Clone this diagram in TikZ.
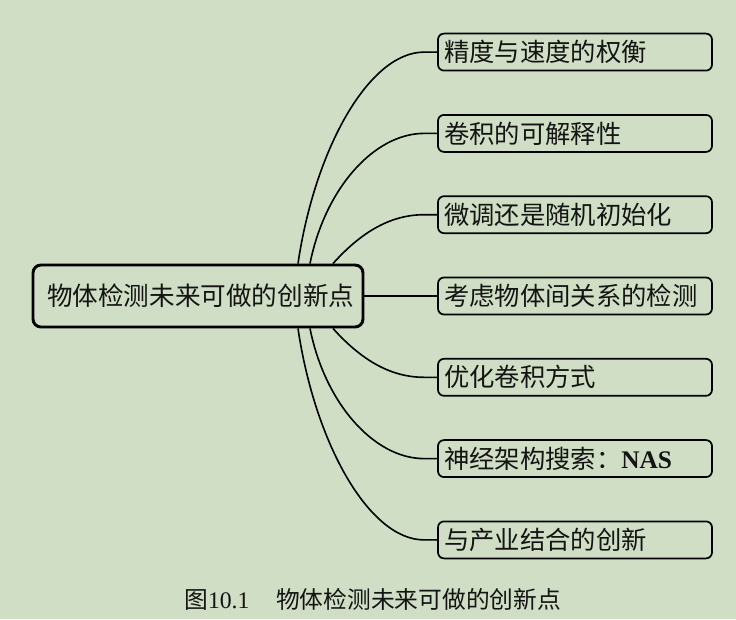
\documentclass[tikz,border=0pt]{standalone}
\usepackage{fontspec}
\setmainfont{Liberation Serif}
\newfontfamily\cjk{Noto Sans CJK SC}
\newfontfamily\lserif{Liberation Serif}
\definecolor{bg}{RGB}{207,222,196}
\definecolor{txt}{RGB}{20,20,20}
\begin{document}
\begin{tikzpicture}[x=0.75pt,y=-0.75pt,
  branch/.style={draw=black, line width=1.3pt, rounded corners=4.5pt, fill=bg,
    minimum width=205.5pt, minimum height=27.75pt, text width=196.5pt, align=left,
    inner xsep=4.5pt, inner ysep=0pt, font=\cjk\fontsize{19}{20}\selectfont, text=txt},
  root/.style={draw=black, line width=2.2pt, rounded corners=6pt, fill=bg,
    minimum width=247.5pt, minimum height=46.5pt, inner sep=0pt,
    font=\cjk\fontsize{19.2}{22}\selectfont, text=txt},
  link/.style={line width=1.2pt, black}]
\fill[bg] (0,0) rectangle (736,619);
\useasboundingbox (0,0) rectangle (736,619);

\node[root] (root) at (198,296) {\hspace{4pt}物体检测未来可做的创新点};

\node[branch] (b1) at (575,52.1) {精度与速度的权衡};
\node[branch] (b2) at (575,133.4) {卷积的可解释性};
\node[branch] (b3) at (575,214.7) {微调还是随机初始化};
\node[branch] (b4) at (575,296) {考虑物体间关系的检测};
\node[branch] (b5) at (575,377.3) {优化卷积方式};
\node[branch] (b6) at (575,458.6) {神经架构搜索：{\lserif\bfseries NAS}};
\node[branch] (b7) at (575,539.9) {与产业结合的创新};

\coordinate (s1) at ([xshift=75pt]root.north);
\coordinate (s2) at ([xshift=84pt]root.north);
\coordinate (s3) at ([xshift=101.25pt]root.north);
\coordinate (s5) at ([xshift=101.25pt]root.south);
\coordinate (s6) at ([xshift=84pt]root.south);
\coordinate (s7) at ([xshift=75pt]root.south);

\draw[link] (s1) .. controls +(17,-115) and +(-55,0) .. ([xshift=-9.75pt]b1.west) -- (b1.west);
\draw[link] (s2) .. controls +(15,-75) and +(-50,0) .. ([xshift=-9.75pt]b2.west) -- (b2.west);
\draw[link] (s3) .. controls +(27,-30) and +(-35,0) .. ([xshift=-9.75pt]b3.west) -- (b3.west);
\draw[link] (root.east) -- (b4.west);
\draw[link] (s5) .. controls +(27,30) and +(-35,0) .. ([xshift=-9.75pt]b5.west) -- (b5.west);
\draw[link] (s6) .. controls +(15,75) and +(-50,0) .. ([xshift=-9.75pt]b6.west) -- (b6.west);
\draw[link] (s7) .. controls +(17,115) and +(-55,0) .. ([xshift=-9.75pt]b7.west) -- (b7.west);

\node[anchor=west, inner sep=0pt, text=txt, font=\fontsize{17.8}{20}\selectfont] (cap) at (184,599)
  {{\cjk 图}10.1\hspace{20pt}{\cjk 物体检测未来可做的创新点}};
\end{tikzpicture}
\end{document}
